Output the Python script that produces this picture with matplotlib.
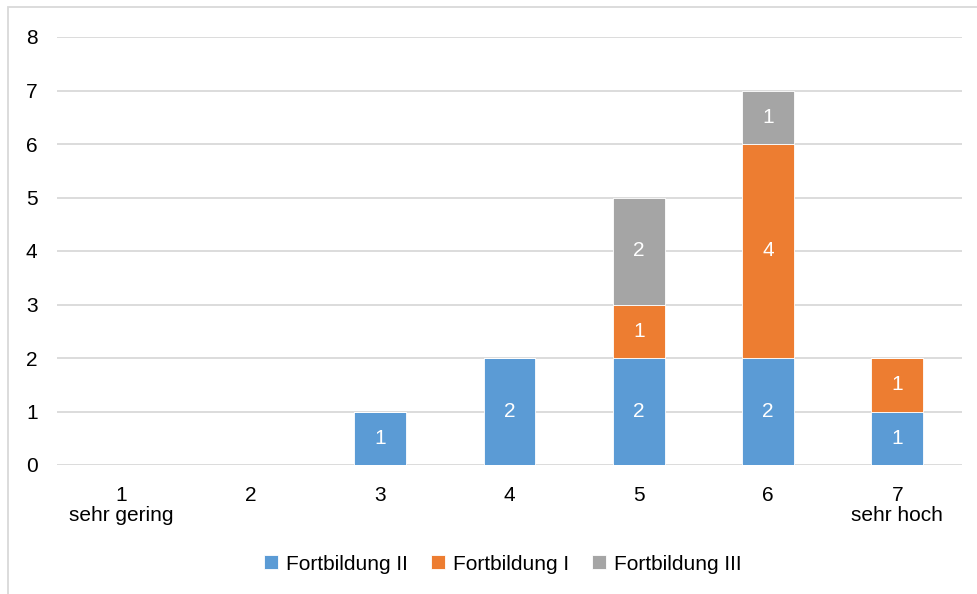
import matplotlib
matplotlib.use("Agg")
import matplotlib.pyplot as plt
from matplotlib.patches import Rectangle
import numpy as np

plt.rcParams['font.family'] = ['Liberation Sans', 'DejaVu Sans']

categories = ["1\nsehr gering", "2", "3", "4", "5", "6", "7\nsehr hoch"]
fort2 = [0, 0, 1, 2, 2, 2, 1]
fort1 = [0, 0, 0, 0, 1, 4, 1]
fort3 = [0, 0, 0, 0, 2, 1, 0]
series_names = ["Fortbildung II", "Fortbildung I", "Fortbildung III"]
colors = ["#5B9BD5", "#ED7D31", "#A5A5A5"]

W, H = 978, 594
fig = plt.figure(figsize=(W / 100, H / 100), dpi=100)
ax = fig.add_axes([57 / W, 1 - 465 / H, 905 / W, 428 / H])

x = np.arange(len(categories))
bottom = np.zeros(len(categories))
handles = []
for vals, name, col in zip([fort2, fort1, fort3], series_names, colors):
    vals = np.array(vals, dtype=float)
    bars = ax.bar(x, vals, 0.4, bottom=bottom, color=col, label=name,
                  edgecolor="white", linewidth=0.6, zorder=3)
    handles.append(bars)
    for xi, v, b in zip(x, vals, bottom):
        if v > 0:
            ax.text(xi, b + v / 2, f"{int(v)}", ha="center", va="center",
                    color="white", fontsize=15, zorder=4)
    bottom += vals

ax.set_xlim(-0.5, len(categories) - 0.5)
ax.set_ylim(0, 8)
ax.set_yticks(range(0, 9))
ax.set_xticks(x)
ax.set_xticklabels(categories, fontsize=15, color="#000000", linespacing=1.1)
ax.tick_params(axis="y", labelsize=15, length=0, pad=14)
ax.tick_params(axis="x", length=0, pad=15)
ax.grid(axis="y", color="#D9D9D9", linewidth=1.3, zorder=0)
for s in ax.spines.values():
    s.set_visible(False)

leg = fig.legend(handles=handles, labels=series_names, loc="center",
                 bbox_to_anchor=(503 / W, 1 - 564 / H), ncol=3, frameon=False,
                 fontsize=15, handlelength=0.65, handleheight=0.65,
                 handletextpad=0.4, columnspacing=1.1)

fig.patches.append(Rectangle((8 / W, -0.05), 1.1, 1 - 7 / H + 0.05,
                             transform=fig.transFigure, fill=False,
                             edgecolor="#D9D9D9", linewidth=1.3))

fig.savefig("out.png", dpi=100)
